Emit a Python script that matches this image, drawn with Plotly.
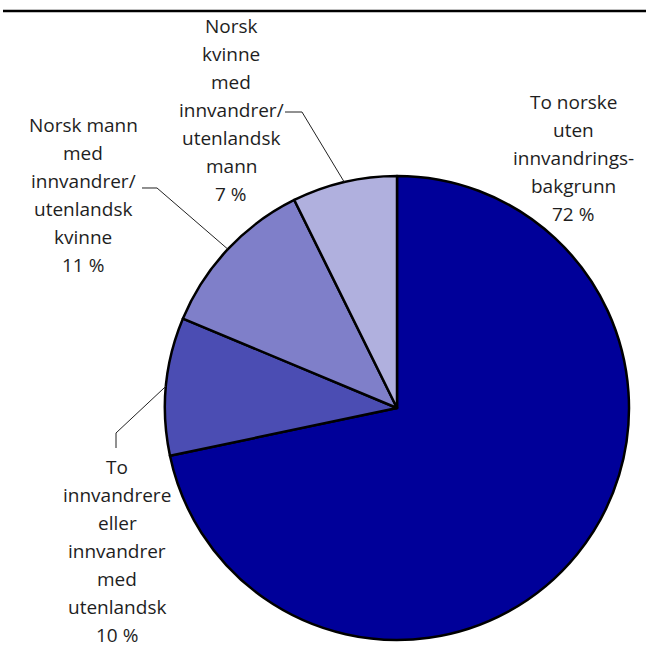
import math
import plotly.graph_objects as go

# ---- data ----
categories = [
    "To norske uten innvandringsbakgrunn",
    "To innvandrere eller innvandrer med utenlandsk",
    "Norsk mann med innvandrer/utenlandsk kvinne",
    "Norsk kvinne med innvandrer/utenlandsk mann",
]
label_lines = [
    ["To norske", "uten", "innvandrings-", "bakgrunn"],
    ["To", "innvandrere", "eller", "innvandrer", "med", "utenlandsk"],
    ["Norsk mann", "med", "innvandrer/", "utenlandsk", "kvinne"],
    ["Norsk", "kvinne", "med", "innvandrer/", "utenlandsk", "mann"],
]
values = [71.7, 9.6, 11.4, 7.3]
colors = ["#000099", "#4b4db3", "#7f7fc9", "#b0b0de"]

# ---- layout (pixels) ----
W, H = 651, 650
CX, CY, R = 397, 408, 232
LINE_H = 28
FONT = dict(family="Open Sans, Noto Sans, sans-serif", size=19, color="#1e1e1e")

# label centre x, first line y (px)
label_pos = [(573, 102), (117, 467), (83, 125), (231, 26)]
# leader elbows (px): list of points from label side; None = no leader
leader_pts = [None, [(116, 448), (116, 433)], [(142, 188), (157, 188)], [(285, 112), (302, 112)]]


def px(x):
    return x / W


def py(y):
    return 1 - y / H


fig = go.Figure()
fig.add_trace(go.Pie(
    labels=categories,
    values=values,
    sort=False,
    direction="clockwise",
    rotation=0,
    textinfo="none",
    hoverinfo="label+percent",
    marker=dict(colors=colors, line=dict(color="black", width=2.5)),
    domain=dict(x=[px(CX - R), px(CX + R)], y=[py(CY + R), py(CY - R)]),
    showlegend=False,
))

annotations = []
shapes = []
total = sum(values)
cum = 0.0
for i, v in enumerate(values):
    lines = label_lines[i] + [f"{round(v / total * 100)} %"]
    lx, ly = label_pos[i]
    for k, t in enumerate(lines):
        annotations.append(dict(
            x=px(lx), y=py(ly + k * LINE_H), xref="paper", yref="paper",
            text=t, showarrow=False, xanchor="center", yanchor="middle", font=FONT,
        ))
    mid = (cum + v / 2) / total * 2 * math.pi
    cum += v
    if leader_pts[i]:
        ex = CX + R * math.sin(mid)
        ey = CY - R * math.cos(mid)
        pts = leader_pts[i] + [(ex, ey)]
        path = "M " + " L ".join(f"{px(a):.5f},{py(b):.5f}" for a, b in pts)
        shapes.append(dict(type="path", xref="paper", yref="paper", path=path,
                           line=dict(color="#222222", width=1)))

# top rule
shapes.append(dict(type="line", xref="paper", yref="paper",
                   x0=px(3), x1=px(646), y0=py(11), y1=py(11),
                   line=dict(color="black", width=2.5)))

fig.update_layout(
    width=W, height=H,
    margin=dict(l=0, r=0, t=0, b=0),
    paper_bgcolor="white",
    plot_bgcolor="white",
    annotations=annotations,
    shapes=shapes,
)

fig.write_html("out.html", config={"displayModeBar": False},
               post_script="document.body.style.margin='0';")
